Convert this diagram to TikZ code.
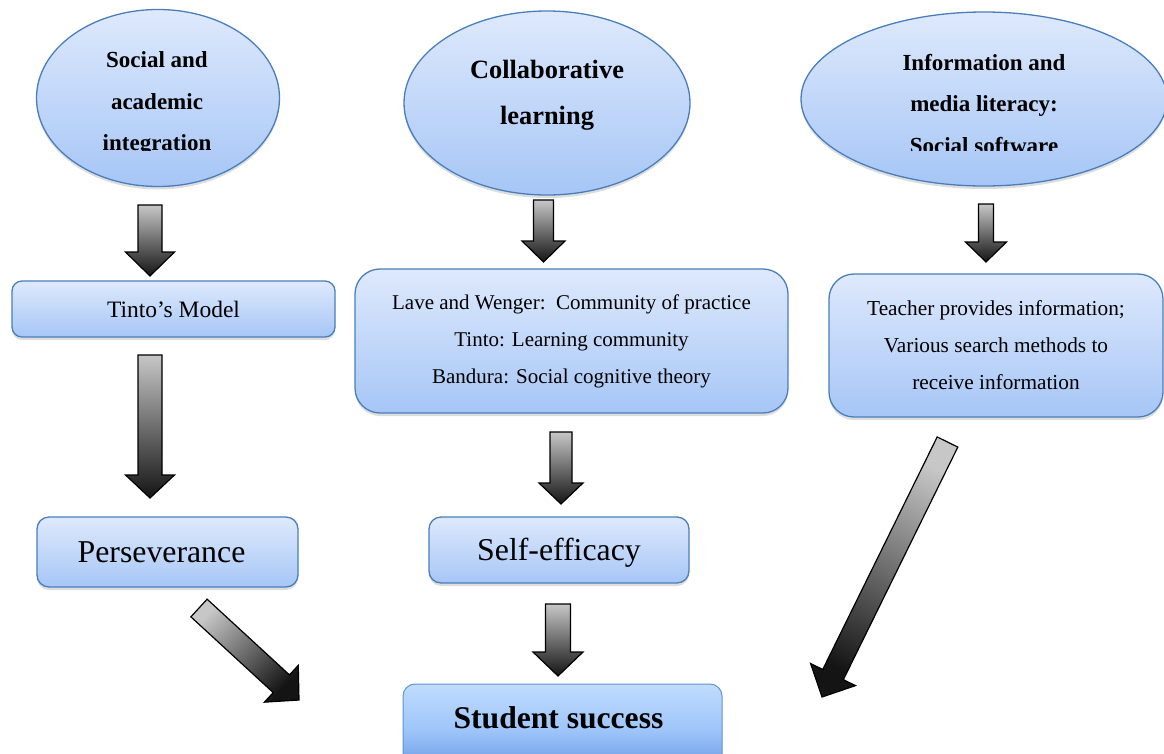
\documentclass[tikz,border=0pt]{standalone}
\usepackage{fontspec}
\setmainfont{Liberation Serif}
\usetikzlibrary{shapes.geometric,calc,shadows}
\definecolor{bfTop}{RGB}{222,233,252}
\definecolor{bfBot}{RGB}{166,198,246}
\definecolor{bdr}{RGB}{74,126,187}
\definecolor{ssTop}{RGB}{192,220,253}
\definecolor{ssMid}{RGB}{158,198,250}
\definecolor{ssBot}{RGB}{100,148,226}
\definecolor{ssBdr}{RGB}{96,146,215}
\tikzset{
  softshadow/.style={drop shadow={shadow xshift=0pt,shadow yshift=-3pt,opacity=0.22,fill=black!60}},
  oval/.style={ellipse, draw=bdr, line width=1.3pt, top color=bfTop, bottom color=bfBot, inner sep=0pt, softshadow},
  rbox/.style={rectangle, draw=bdr, line width=1.3pt, top color=bfTop, bottom color=bfBot, inner sep=0pt, softshadow, align=center},
  ovaltext/.style={font=\fontsize{23}{41.5}\selectfont\bfseries, align=center, inner sep=0pt},
  blockarrow/.style={draw=black, line width=1.2pt, line join=miter, top color=black!22, bottom color=black!92}
}
% #1 shading angle, #2 shaft half-width, #3 head half-width, #4 head length, #5 tail, #6 tip
\newcommand\blockarr[6]{%
  \coordinate (ba-c) at ($(#6)!#4pt!(#5)$);
  \draw[blockarrow, shading angle=#1]
    ($(#5)!#2pt!90:(#6)$) -- ($(ba-c)!#2pt!90:(#6)$) -- ($(ba-c)!#3pt!90:(#6)$) -- (#6)
    -- ($(ba-c)!#3pt!-90:(#6)$) -- ($(ba-c)!#2pt!-90:(#6)$) -- ($(#5)!#2pt!-90:(#6)$) -- cycle;}
\begin{document}
\begin{tikzpicture}[x=1pt,y=-1pt]
\useasboundingbox (0,0) rectangle (1164,753);
\clip (0,0) rectangle (1164,753);

% ellipses
\node[oval, minimum width=243pt, minimum height=177pt] (e1) at (158,98) {};
\node[oval, minimum width=286pt, minimum height=184pt] (e2) at (547,103) {};
\node[oval, minimum width=366pt, minimum height=174pt] (e3) at (984,99) {};
\begin{scope}
  \clip (0,0) rectangle (1164,150.5);
  \node[ovaltext] (t1) at (157,104) {Social and\\academic\\integration};
  \node[ovaltext] (t3) at (984,104) {Information and\\media literacy:\\Social software};
\end{scope}
\node[font=\fontsize{26.4}{46}\selectfont\bfseries, align=center, inner sep=0pt] (t2) at (547,95) {Collaborative\\learning};

% boxes
\node[rbox, rounded corners=10pt, minimum width=323pt, minimum height=56pt,
      font=\fontsize{23.5}{28}\selectfont] (tinto) at (173.5,309) {Tinto’s Model};
\node[rbox, rounded corners=25pt, minimum width=433pt, minimum height=144pt,
      font=\fontsize{21}{37}\selectfont] (lave) at (571.5,341)
      {Lave and Wenger:\ \ Community of practice\\Tinto: Learning community\\Bandura: Social cognitive theory};
\node[rbox, rounded corners=25pt, minimum width=334pt, minimum height=143pt,
      font=\fontsize{21.3}{37}\selectfont] (teach) at (996,345.5)
      {Teacher provides information;\\Various search methods to\\receive information};
\node[rbox, rounded corners=12pt, minimum width=261pt, minimum height=70pt,
      font=\fontsize{31.8}{36}\selectfont] (pers) at (167.5,552) {\hspace*{-12pt}Perseverance};
\node[rbox, rounded corners=12pt, minimum width=260pt, minimum height=66pt,
      text height=21pt, text depth=0pt,
      font=\fontsize{31.8}{36}\selectfont] (self) at (559,550) {Self-efficacy};
\node[rectangle, rounded corners=12pt, draw=ssBdr, line width=1pt,
      top color=ssTop, bottom color=ssBot, middle color=ssMid, softshadow,
      inner sep=0pt, minimum width=319pt, minimum height=91pt,
      text height=21.5pt, text depth=24pt,
      font=\fontsize{31.6}{36}\selectfont\bfseries] (succ) at (562.5,729.5) {\hspace*{-8pt}Student success};

% connector end points
\coordinate (a1t) at (150,205);   \coordinate (a1h) at (150,276);
\coordinate (a2t) at (150,355);   \coordinate (a2h) at (150,498);
\coordinate (a3t) at (543.5,200); \coordinate (a3h) at (543.5,262);
\coordinate (a4t) at (561,432);   \coordinate (a4h) at (561,504);
\coordinate (a5t) at (558,604);   \coordinate (a5h) at (558,676);
\coordinate (a6t) at (986,204);   \coordinate (a6h) at (986,262);
\coordinate (a7t) at (199,608);   \coordinate (a7h) at (299,700);
\coordinate (a8t) at (947.5,442); \coordinate (a8h) at (822,697);

% block arrows
\blockarr{0}{12}{24.5}{24}{a1t}{a1h}
\blockarr{0}{12}{24.5}{23}{a2t}{a2h}
\blockarr{0}{10}{21.5}{21}{a3t}{a3h}
\blockarr{0}{11}{22}{21}{a4t}{a4h}
\blockarr{0}{12.5}{25}{24}{a5t}{a5h}
\blockarr{0}{7.5}{20.5}{20}{a6t}{a6h}
\blockarr{45}{12}{25}{24}{a7t}{a7h}
\blockarr{-26}{11.5}{25}{25}{a8t}{a8h}
\end{tikzpicture}
\end{document}
